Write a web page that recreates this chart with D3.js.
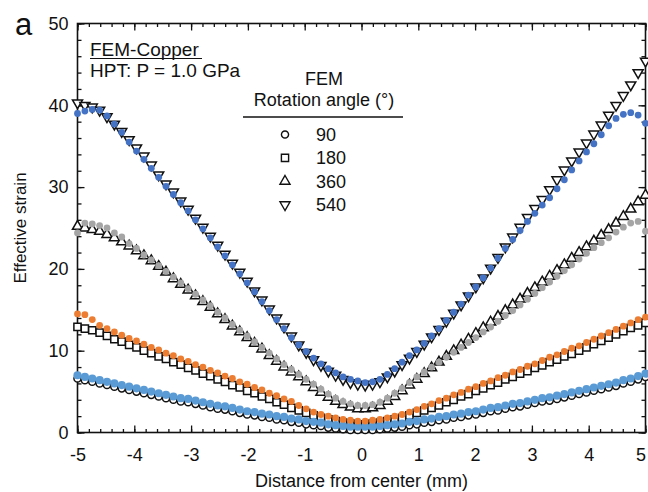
<!DOCTYPE html>
<html>
<head>
<meta charset="utf-8">
<script src="https://cdn.jsdelivr.net/npm/d3@7/dist/d3.min.js"></script>
<style>
  html, body { margin: 0; padding: 0; background: #fff; }
  svg { display: block; }
  text { font-family: "Liberation Sans", Arial, Helvetica, sans-serif; fill: #111; }
</style>
</head>
<body>
<svg id="chart" width="648" height="492"></svg>
<script>
// Distance from the disc centre of each evaluated node (mm)
const distance = [
  -5.000, -4.870, -4.740, -4.610, -4.481, -4.351, -4.221, -4.091, -3.961, -3.831,
  -3.701, -3.571, -3.442, -3.312, -3.182, -3.052, -2.922, -2.792, -2.662, -2.532,
  -2.403, -2.273, -2.143, -2.013, -1.883, -1.753, -1.623, -1.494, -1.364, -1.234,
  -1.104, -0.974, -0.844, -0.714, -0.584, -0.455, -0.325, -0.195, -0.065,
   0.065,  0.195,  0.325,  0.455,  0.584,  0.714,  0.844,  0.974,  1.104,  1.234,
   1.364,  1.494,  1.623,  1.753,  1.883,  2.013,  2.143,  2.273,  2.403,  2.532,
   2.662,  2.792,  2.922,  3.052,  3.182,  3.312,  3.442,  3.571,  3.701,  3.831,
   3.961,  4.091,  4.221,  4.351,  4.481,  4.610,  4.740,  4.870,  5.000
];

// FEM effective strain, open symbols
const fem90 = [
  6.6, 6.4, 6.2, 6.0, 5.8, 5.6, 5.4, 5.2, 5.0, 4.8, 4.6,
  4.4, 4.2, 4.0, 3.8, 3.7, 3.5, 3.3, 3.1, 2.9, 2.8,
  2.6, 2.4, 2.2, 2.1, 1.9, 1.8, 1.6, 1.5, 1.3, 1.2,
  1.0, 0.9, 0.8, 0.6, 0.5, 0.4, 0.3, 0.3,
  0.3, 0.3, 0.4, 0.5, 0.6, 0.7, 0.9, 1.0, 1.2,
  1.3, 1.5, 1.6, 1.8, 1.9, 2.1, 2.2, 2.4, 2.6, 2.7,
  2.9, 3.1, 3.2, 3.4, 3.6, 3.8, 3.9, 4.1, 4.3, 4.5,
  4.7, 4.9, 5.1, 5.3, 5.5, 5.7, 6.0, 6.2, 6.5, 6.8
];
const fem180 = [
  12.9, 12.7, 12.5, 12.2, 11.8, 11.4, 11.1, 10.7, 10.4, 10.0, 9.7,
  9.3, 9.0, 8.6, 8.3, 7.9, 7.6, 7.2, 6.9, 6.5, 6.2,
  5.8, 5.5, 5.1, 4.8, 4.4, 4.1, 3.7, 3.4, 3.0, 2.7,
  2.4, 2.1, 1.8, 1.6, 1.4, 1.2, 1.1, 1.0,
  1.0, 1.1, 1.2, 1.4, 1.6, 1.8, 2.1, 2.4, 2.7,
  3.0, 3.3, 3.7, 4.0, 4.4, 4.7, 5.1, 5.4, 5.8, 6.1,
  6.5, 6.8, 7.2, 7.5, 7.9, 8.2, 8.6, 8.9, 9.3, 9.6,
  10.0, 10.4, 10.8, 11.2, 11.6, 12.0, 12.4, 12.8, 13.1, 13.4
];
const fem360 = [
  25.2, 25.0, 24.8, 24.6, 24.2, 23.8, 23.3, 22.8, 22.2, 21.6, 21.0,
  20.3, 19.6, 18.8, 18.1, 17.4, 16.7, 16.0, 15.3, 14.5, 13.8,
  13.0, 12.3, 11.6, 10.9, 10.2, 9.4, 8.7, 8.0, 7.4, 6.8,
  6.2, 5.5, 4.9, 4.3, 3.8, 3.4, 3.1, 2.9,
  2.9, 3.0, 3.3, 3.8, 4.4, 5.1, 5.8, 6.5, 7.2,
  7.9, 8.6, 9.3, 10.0, 10.7, 11.4, 12.1, 12.8, 13.5, 14.2,
  14.9, 15.6, 16.3, 17.0, 17.7, 18.4, 19.1, 19.8, 20.5, 21.3,
  22.0, 22.7, 23.4, 24.1, 24.8, 25.6, 26.4, 27.3, 28.2, 29.0
];
const fem540 = [
  40.3, 40.0, 39.8, 39.4, 38.6, 37.7, 36.8, 35.8, 34.8, 33.8, 32.7,
  31.5, 30.4, 29.4, 28.3, 27.3, 26.2, 25.1, 24.0, 22.9, 21.8,
  20.7, 19.6, 18.5, 17.3, 16.2, 15.1, 14.0, 12.9, 11.8, 10.7,
  9.8, 8.9, 8.2, 7.5, 7.0, 6.5, 6.1, 5.9,
  5.8, 5.9, 6.2, 6.8, 7.5, 8.3, 9.1, 9.9, 10.8,
  11.7, 12.6, 13.6, 14.6, 15.6, 16.7, 17.8, 18.9, 20.1, 21.4,
  22.7, 23.9, 25.1, 26.3, 27.4, 28.5, 29.7, 30.9, 32.1, 33.2,
  34.3, 35.4, 36.5, 37.6, 38.8, 40.0, 41.2, 42.5, 44.0, 45.4
];

// Companion results, filled dots
const dots90 = [
  7.0, 6.8, 6.6, 6.4, 6.2, 6.0, 5.8, 5.6, 5.4, 5.2, 5.0,
  4.8, 4.6, 4.4, 4.2, 4.1, 3.9, 3.7, 3.5, 3.3, 3.2,
  3.0, 2.8, 2.6, 2.5, 2.3, 2.2, 2.0, 1.9, 1.7, 1.6,
  1.4, 1.3, 1.2, 1.0, 0.9, 0.8, 0.7, 0.7,
  0.7, 0.7, 0.8, 0.9, 1.0, 1.1, 1.3, 1.4, 1.6,
  1.7, 1.9, 2.0, 2.2, 2.3, 2.5, 2.6, 2.8, 3.0, 3.1,
  3.3, 3.5, 3.6, 3.8, 4.0, 4.2, 4.3, 4.5, 4.7, 4.9,
  5.1, 5.3, 5.5, 5.7, 5.9, 6.1, 6.4, 6.6, 6.9, 7.2
];
const dots180 = [
  14.5, 14.4, 13.8, 13.1, 12.7, 12.3, 11.9, 11.5, 11.2, 10.8, 10.4,
  10.1, 9.7, 9.4, 9.0, 8.7, 8.3, 8.0, 7.6, 7.3, 6.9,
  6.6, 6.2, 5.9, 5.5, 5.2, 4.8, 4.5, 4.1, 3.8, 3.3,
  2.9, 2.5, 2.2, 2.0, 1.8, 1.6, 1.5, 1.4,
  1.4, 1.5, 1.6, 1.8, 2.0, 2.2, 2.5, 2.8, 3.2,
  3.5, 3.9, 4.2, 4.6, 4.9, 5.3, 5.6, 6.0, 6.3, 6.7,
  7.0, 7.4, 7.7, 8.1, 8.4, 8.8, 9.2, 9.5, 9.9, 10.3,
  10.6, 11.0, 11.4, 11.8, 12.2, 12.6, 13.0, 13.4, 13.8, 14.1
];
const dots360 = [
  24.4, 25.6, 25.5, 25.3, 25.0, 24.4, 23.9, 23.1, 22.5, 21.7, 21.1,
  20.4, 19.7, 19.0, 18.3, 17.6, 16.9, 16.2, 15.5, 14.7, 14.0,
  13.2, 12.5, 11.8, 11.1, 10.4, 9.7, 9.0, 8.3, 7.7, 7.1,
  6.5, 5.9, 5.3, 4.7, 4.2, 3.8, 3.5, 3.3,
  3.3, 3.4, 3.7, 4.2, 4.8, 5.4, 6.1, 6.8, 7.4,
  8.0, 8.6, 9.2, 9.8, 10.4, 11.0, 11.6, 12.3, 12.9, 13.6,
  14.3, 14.9, 15.6, 16.3, 17.0, 17.7, 18.4, 19.1, 19.8, 20.5,
  21.2, 21.9, 22.6, 23.2, 23.8, 24.5, 25.1, 25.6, 25.8, 24.6
];
const dots540 = [
  39.0, 39.3, 39.5, 39.4, 38.7, 37.7, 36.7, 35.5, 34.4, 33.4, 32.3,
  31.2, 30.1, 29.1, 28.1, 27.1, 26.0, 24.9, 23.8, 22.7, 21.6,
  20.5, 19.4, 18.3, 17.2, 16.0, 14.9, 13.8, 12.7, 11.6, 10.7,
  9.9, 9.1, 8.4, 7.8, 7.3, 6.8, 6.5, 6.3,
  6.1, 6.2, 6.5, 7.1, 7.8, 8.6, 9.4, 10.1, 10.9,
  11.8, 12.7, 13.7, 14.7, 15.7, 16.8, 17.8, 18.9, 20.1, 21.3,
  22.5, 23.6, 24.7, 25.8, 26.8, 27.8, 28.7, 29.8, 30.9, 32.1,
  33.2, 34.3, 35.3, 36.4, 37.5, 38.4, 38.9, 39.1, 38.8, 37.8
];

// Legend entries and tick labels
const rotationAngles = ["90", "180", "360", "540"];
const xTicks = [-5, -4, -3, -2, -1, 0, 1, 2, 3, 4, 5];
const yTicks = [0, 10, 20, 30, 40, 50];

const svg = d3.select("#chart");

const x = d3.scaleLinear().domain([-5, 5]).range([77.5, 645.5]);
const y = d3.scaleLinear().domain([0, 50]).range([432.5, 23.5]);

const xMinor = d3.range(-5, 5.001, 0.2).map(v => +v.toFixed(1));
const yMinor = d3.range(0, 50.001, 2);

// Plain hyphen-minus for negative tick labels
const plainFormat = d => String(d);

function styleAxis(g) {
  g.select(".domain").remove();
  g.selectAll(".tick line").attr("stroke", "#111").attr("stroke-width", 1.3);
  g.selectAll(".tick text").style("font-size", "18px").attr("fill", "#111");
}

// Minor ticks on all four sides, pointing inward
svg.append("g").attr("transform", `translate(0,${y(0)})`)
  .call(d3.axisBottom(x).tickValues(xMinor).tickSize(-3.5).tickFormat(""))
  .call(styleAxis);
svg.append("g").attr("transform", `translate(0,${y(50)})`)
  .call(d3.axisTop(x).tickValues(xMinor).tickSize(-3.5).tickFormat(""))
  .call(styleAxis);
svg.append("g").attr("transform", `translate(${x(-5)},0)`)
  .call(d3.axisLeft(y).tickValues(yMinor).tickSize(-4).tickFormat(""))
  .call(styleAxis);
svg.append("g").attr("transform", `translate(${x(5)},0)`)
  .call(d3.axisRight(y).tickValues(yMinor).tickSize(-4).tickFormat(""))
  .call(styleAxis);

// Major ticks with labels
const xAxisG = svg.append("g").attr("transform", `translate(0,${y(0)})`)
  .call(d3.axisBottom(x).tickValues(xTicks).tickSize(-7).tickPadding(16).tickFormat(plainFormat))
  .call(styleAxis);
// keep the last label inside the page edge
xAxisG.selectAll(".tick text").filter(d => d === 5).attr("text-anchor", "end").attr("dx", "0");

svg.append("g").attr("transform", `translate(0,${y(50)})`)
  .call(d3.axisTop(x).tickValues(xTicks).tickSize(-7).tickFormat(""))
  .call(styleAxis);
svg.append("g").attr("transform", `translate(${x(-5)},0)`)
  .call(d3.axisLeft(y).tickValues(yTicks).tickSize(-7).tickPadding(9).tickFormat(plainFormat))
  .call(styleAxis);
svg.append("g").attr("transform", `translate(${x(5)},0)`)
  .call(d3.axisRight(y).tickValues(yTicks).tickSize(-7).tickFormat(""))
  .call(styleAxis);

// Plot frame
svg.append("rect")
  .attr("x", x(-5)).attr("y", y(50))
  .attr("width", x(5) - x(-5)).attr("height", y(0) - y(50))
  .attr("fill", "none").attr("stroke", "#111").attr("stroke-width", 1.6);

// Axis titles
svg.append("text")
  .attr("x", (x(-5) + x(5)) / 2).attr("y", 487)
  .attr("text-anchor", "middle").style("font-size", "18px")
  .text("Distance from center (mm)");
svg.append("text")
  .attr("transform", `translate(26,${(y(0) + y(50)) / 2}) rotate(-90)`)
  .attr("text-anchor", "middle").style("font-size", "17px")
  .text("Effective strain");

// Panel letter
svg.append("text").attr("x", 15).attr("y", 35).style("font-size", "31px").text("a");

// Open-symbol shapes
const shapes = {
  circle: d3.symbol().type(d3.symbolCircle).size(40),
  square: d3.symbol().type(d3.symbolSquare).size(52),
  up: d3.symbol().type(d3.symbolTriangle).size(44),
  down: d3.symbol().type(d3.symbolTriangle).size(44)
};

function openSeries(values, shape) {
  const rot = shape === "down" ? " rotate(180)" : "";
  svg.append("g").selectAll("path")
    .data(values)
    .join("path")
    .attr("d", shapes[shape]())
    .attr("transform", (d, i) => `translate(${x(distance[i])},${y(d)})${rot}`)
    .attr("fill", "#fff").attr("stroke", "#111").attr("stroke-width", 1.5);
}

function dotSeries(values, color, r) {
  svg.append("g").selectAll("circle")
    .data(values)
    .join("circle")
    .attr("cx", (d, i) => x(distance[i]))
    .attr("cy", d => y(d))
    .attr("r", r)
    .attr("fill", color);
}

openSeries(fem90, "circle");
openSeries(fem180, "square");
openSeries(fem360, "up");
openSeries(fem540, "down");

dotSeries(dots90, "#5b9bd5", 4.1);
dotSeries(dots180, "#ed7d31", 3.4);
dotSeries(dots360, "#a5a5a5", 3.4);
dotSeries(dots540, "#4472c4", 3.4);

// Material and process note
svg.append("text").attr("x", 90).attr("y", 56).style("font-size", "19px").text("FEM-Copper");
svg.append("line").attr("x1", 90).attr("x2", 202).attr("y1", 58.5).attr("y2", 58.5)
  .attr("stroke", "#111").attr("stroke-width", 1.2);
svg.append("text").attr("x", 90).attr("y", 77).style("font-size", "19px").text("HPT: P = 1.0 GPa");

// Legend
const legendX = 324;
svg.append("text").attr("x", legendX).attr("y", 85)
  .attr("text-anchor", "middle").style("font-size", "18px").text("FEM");
svg.append("text").attr("x", legendX).attr("y", 106)
  .attr("text-anchor", "middle").style("font-size", "18px").text("Rotation angle (°)");
svg.append("line").attr("x1", 243).attr("x2", 403).attr("y1", 117).attr("y2", 117)
  .attr("stroke", "#111").attr("stroke-width", 1.5);

const legendShapes = ["circle", "square", "up", "down"];
const legend = svg.append("g").selectAll("g")
  .data(rotationAngles)
  .join("g")
  .attr("transform", (d, i) => `translate(285,${134.5 + i * 23.4})`);
legend.append("path")
  .attr("d", (d, i) => shapes[legendShapes[i]]())
  .attr("transform", (d, i) => legendShapes[i] === "down" ? "rotate(180)" : null)
  .attr("fill", "#fff").attr("stroke", "#111").attr("stroke-width", 1.4);
legend.append("text")
  .attr("x", 31).attr("y", 6.5)
  .style("font-size", "18px")
  .text(d => d);
</script>
</body>
</html>
